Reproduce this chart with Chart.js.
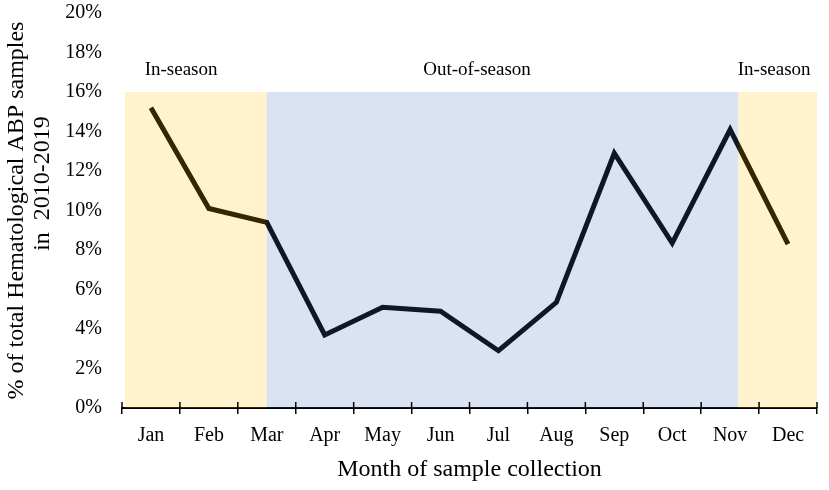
<!DOCTYPE html>
<html><head><meta charset="utf-8">
<script src="https://cdn.jsdelivr.net/npm/chart.js@4.4.1/dist/chart.umd.min.js"></script>
<style>html,body{margin:0;padding:0;background:#fff}#wrap{width:829px;height:490px}</style>
</head><body><div id="wrap"><canvas id="c" width="829" height="490"></canvas></div>
<script>
// ---- data ----
const months = ['Jan','Feb','Mar','Apr','May','Jun','Jul','Aug','Sep','Oct','Nov','Dec'];
const percentSamples = [15.2, 10.1, 9.4, 3.7, 5.1, 4.9, 2.9, 5.35, 12.9, 8.35, 14.1, 8.3];
const yTickMin = 0;
const yTickMax = 20;
const yTickStep = 2;
const seasonLabels = ['In-season', 'Out-of-season', 'In-season'];
const seasonKinds = ['in', 'out', 'in'];
const seasonStart = [-0.45, 2, 10.14];   // category units
const seasonEnd = [2, 10.14, 11.5];
const seasonTop = [16, 16, 16];          // percent
const seasonLabelAt = [0.52, 5.63, 10.76];
const seasonLabelLevel = [17.1, 17.1, 17.1];
const xTitle = 'Month of sample collection';
const yTitleLines = ['% of total Hematological ABP samples', 'in  2010-2019'];

// ---- styles ----
const SERIF = "'Liberation Serif', 'Times New Roman', serif";
const seasonFill = { in: 'rgba(255,190,0,0.2)', out: 'rgba(70,115,195,0.2)' };

const seasonPlugin = {
  id: 'seasons',
  afterDatasetsDraw(chart) {
    const { ctx, chartArea, scales: { x, y } } = chart;
    ctx.save();
    for (let i = 0; i < seasonLabels.length; i++) {
      const x0 = x.getPixelForValue(seasonStart[i]);
      const x1 = x.getPixelForValue(seasonEnd[i]);
      const yt = y.getPixelForValue(seasonTop[i]);
      ctx.fillStyle = seasonFill[seasonKinds[i]];
      ctx.fillRect(x0, yt, x1 - x0, chartArea.bottom - yt);
    }
    ctx.fillStyle = '#000';
    ctx.font = '19px ' + SERIF;
    ctx.textAlign = 'center';
    ctx.textBaseline = 'middle';
    for (let i = 0; i < seasonLabels.length; i++) {
      ctx.fillText(seasonLabels[i], x.getPixelForValue(seasonLabelAt[i]), y.getPixelForValue(seasonLabelLevel[i]));
    }
    ctx.restore();
  },
  afterDraw(chart) {
    const { ctx, chartArea, scales: { x } } = chart;
    ctx.save();
    // upward half of the crossing tick marks
    ctx.strokeStyle = '#000';
    ctx.lineWidth = 1.5;
    for (let i = 0; i <= months.length; i++) {
      const px = x.getPixelForValue(i - 0.5);
      ctx.beginPath();
      ctx.moveTo(px, chartArea.bottom - 6);
      ctx.lineTo(px, chartArea.bottom);
      ctx.stroke();
    }
    // y axis title (two lines)
    const cy = (chartArea.top + chartArea.bottom) / 2;
    ctx.fillStyle = '#000';
    ctx.font = '24px ' + SERIF;
    ctx.textAlign = 'center';
    ctx.textBaseline = 'middle';
    const lineX = [17, 43];
    const lineShift = [0, -27];
    for (let i = 0; i < yTitleLines.length; i++) {
      ctx.save();
      ctx.translate(lineX[i], cy + lineShift[i]);
      ctx.rotate(-Math.PI / 2);
      ctx.fillText(yTitleLines[i], 0, 0);
      ctx.restore();
    }
    ctx.restore();
  }
};

new Chart(document.getElementById('c'), {
  type: 'line',
  data: {
    labels: months,
    datasets: [{
      data: percentSamples,
      borderColor: '#000',
      borderWidth: 5,
      borderJoinStyle: 'miter',
      borderCapStyle: 'butt',
      pointRadius: 0,
      pointHoverRadius: 0,
      tension: 0,
      fill: false
    }]
  },
  options: {
    responsive: false,
    animation: false,
    devicePixelRatio: 1,
    layout: { autoPadding: false, padding: { top: 13, left: 0, right: 12, bottom: 0 } },
    plugins: { legend: { display: false }, tooltip: { enabled: false } },
    scales: {
      x: {
        type: 'category',
        offset: true,
        z: 1,
        grid: { display: true, offset: true, drawOnChartArea: false, drawTicks: true, tickLength: 6, color: '#000', lineWidth: 1.5 },
        border: { display: true, color: '#000', width: 2 },
        ticks: { font: { family: SERIF, size: 20 }, color: '#000', padding: 10, maxRotation: 0, autoSkip: false },
        title: { display: true, text: xTitle, font: { family: SERIF, size: 24 }, color: '#000', padding: { top: 2, bottom: 6 } },
        afterFit(s) { s.height = 82; s.paddingLeft = 0; s.paddingRight = 0; }
      },
      y: {
        min: yTickMin,
        max: yTickMax,
        grid: { display: false, drawTicks: false },
        border: { display: false },
        ticks: { stepSize: yTickStep, callback: v => v + '%', font: { family: SERIF, size: 20 }, color: '#000', padding: 20 },
        afterFit(s) { s.width = 122; s.paddingTop = 0; s.paddingBottom = 0; }
      }
    }
  },
  plugins: [seasonPlugin]
});
</script>
</body></html>
